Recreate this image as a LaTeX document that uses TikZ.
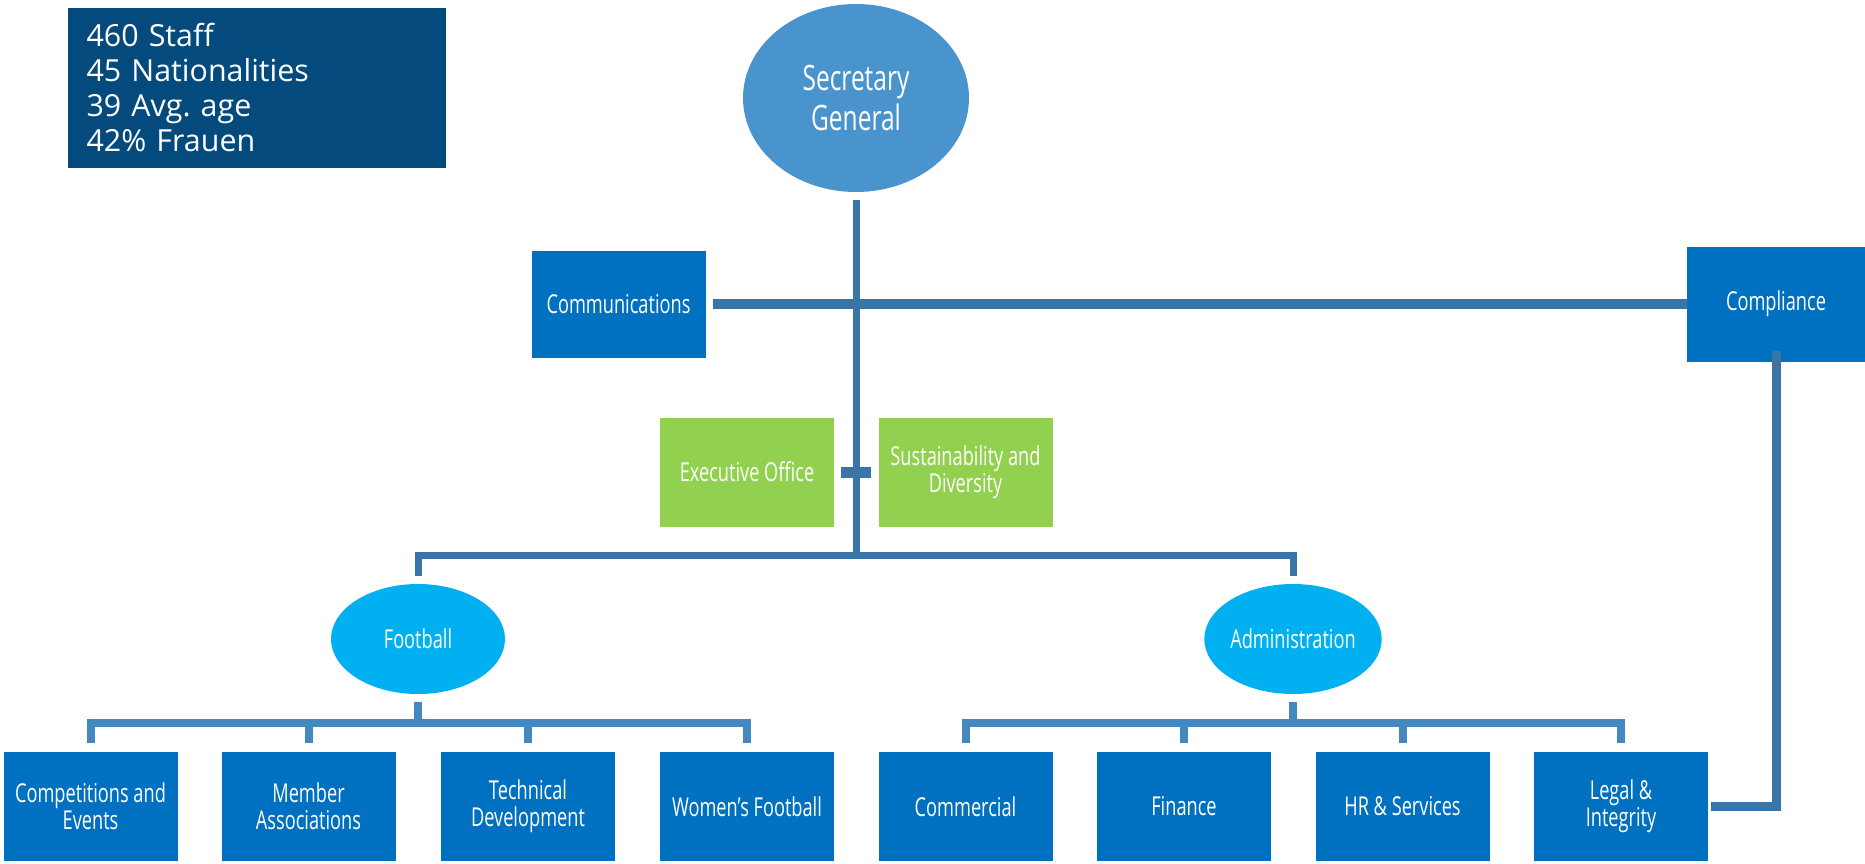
\documentclass[tikz,border=0pt]{standalone}
\usepackage{fontspec}
\setmainfont{Open Sans}
\newfontfamily\narrowfont[FakeStretch=0.70]{Open Sans}
\usepackage{xcolor}
\usepackage{tikz}
\usetikzlibrary{shapes.geometric}
\usetikzlibrary{calc}
\definecolor{factsblue}{RGB}{4,74,125}
\definecolor{deptblue}{RGB}{0,112,192}
\definecolor{officegreen}{RGB}{146,208,80}
\definecolor{headblue}{RGB}{74,148,206}
\definecolor{divblue}{RGB}{0,176,240}
\definecolor{linkdark}{RGB}{58,117,168}
\definecolor{linklight}{RGB}{68,136,192}

\begin{document}
\begin{tikzpicture}[x=0.5pt,y=-0.5pt,
  facts/.style={fill=factsblue,text=white,align=left,text width=170pt,inner xsep=9.5pt,minimum height=80pt,font=\fontsize{15.2}{17.5}\selectfont},
  head/.style={ellipse,fill=headblue,text=white,inner sep=0pt,minimum width=113pt,minimum height=94pt,align=center,font=\narrowfont\fontsize{17.5}{20}\selectfont},
  division/.style={ellipse,fill=divblue,text=white,inner sep=0pt,minimum width=87pt,minimum height=55pt,align=center,font=\narrowfont\fontsize{13}{13.5}\selectfont},
  dept/.style={rectangle,fill=deptblue,text=white,inner sep=1pt,minimum width=87pt,minimum height=54.5pt,align=center,font=\narrowfont\fontsize{13}{13.5}\selectfont},
  office/.style={dept,fill=officegreen},
  link/.style={draw=linkdark,line width=3.5pt},
  bar/.style={draw=linklight,line width=4pt}]
\useasboundingbox (0,0) rectangle (1865,863);

\node[facts] (stats) at (256.5,88) {460 Staff\\45 Nationalities\\39 Avg.\ age\\42\% Frauen};

\node[head] (sg) at (856,98) {Secretary\\General};
\node[dept,minimum height=53.5pt] (comm) at (618.5,304) {Communications};
\node[dept,minimum width=89pt,minimum height=57.5pt] (comp) at (1776,304) {Compliance};
\node[office] (exec) at (747,472) {Executive Office};
\node[office] (sust) at (965.5,472) {Sustainability and\\Diversity};

\node[division] (fb) at (418,639) {Football};
\node[division] (adm) at (1293,639) {Administration};

% football departments
\node[dept] (fc1) at (90.5,806.5) {Competitions and\\Events};
\node[dept] (fc2) at (308.5,806.5) {Member\\Associations};
\node[dept] (fc3) at (528,806.5) {Technical\\Development};
\node[dept] (fc4) at (747,806.5) {Women’s Football};

% administration departments
\node[dept] (ac1) at (965.5,806.5) {Commercial};
\node[dept] (ac2) at (1184,806.5) {Finance};
\node[dept] (ac3) at (1402.5,806.5) {HR \& Services};
\node[dept] (ac4) at (1621,806.5) {Legal \&\\Integrity};

\coordinate (hub) at (856,555);
\coordinate (fbhub) at (418,723);
\coordinate (admhub) at (1293,723);

\draw[link] ($(sg.south)+(0,8)$) -- (hub);
\draw[link,line width=5pt] ($(comm.east)+(7,0)$) -- (comp.west);
\draw[link,line width=5.5pt] ($(exec.east)+(7,0)$) -- ($(sust.west)+(-7,0)$);
\draw[link] ($(fb.north)+(0,-8)$) |- (hub) -| ($(adm.north)+(0,-8)$);

\draw[bar] ($(fb.south)+(0,8)$) -- (fbhub);
\draw[bar] ($(fc1.north)+(0,-9)$) |- (fbhub) -| ($(fc4.north)+(0,-9)$);
\foreach \i in {2,3}
  \draw[bar] ($(fc\i.north)+(0,-9)$) -- (fc\i.north |- fbhub);

\draw[bar] ($(adm.south)+(0,8)$) -- (admhub);
\draw[bar] ($(ac1.north)+(0,-9)$) |- (admhub) -| ($(ac4.north)+(0,-9)$);
\foreach \i in {2,3}
  \draw[bar] ($(ac\i.north)+(0,-9)$) -- (ac\i.north |- admhub);

\draw[link,line width=4.5pt] ($(comp.south)+(0,-11)$) |- ($(ac4.east)+(3,0)$);

\end{tikzpicture}
\end{document}
